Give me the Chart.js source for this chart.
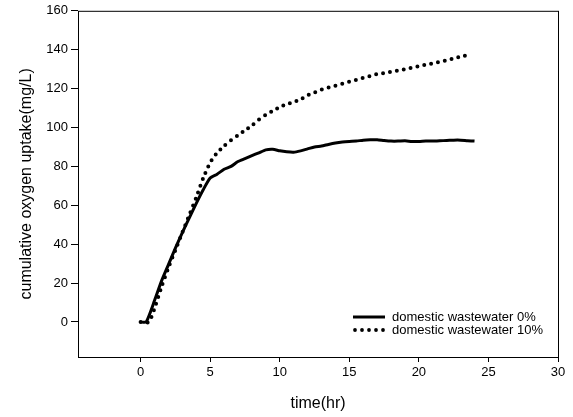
<!DOCTYPE html>
<html lang="en">
<head>
    <meta charset="UTF-8">
    <title>Cumulative oxygen uptake</title>
    <script src="https://cdn.jsdelivr.net/npm/chart.js"></script>
    <style>
        body {
            margin: 0;
            background: #fff;
        }
        #wrap {
            width: 573px;
            height: 417px;
        }
    </style>
</head>
<body>
    <div id="wrap"><canvas id="plot" width="573" height="417"></canvas></div>

    <script>
        // time (hr), sampled every half hour
        const hours0 = [0, 0.4, 1, 1.5, 2, 2.5, 3, 3.5, 4, 4.5, 5, 5.5, 6, 6.5, 7, 7.5, 8, 8.5, 9, 9.5,
            10, 10.5, 11, 11.5, 12, 12.5, 13, 13.5, 14, 14.5, 15, 15.5, 16, 16.5, 17, 17.5, 18, 18.5, 19, 19.5,
            20, 20.5, 21, 21.5, 22, 22.5, 23, 23.5, 24];
        const uptake0 = [0, 0, 11, 21, 29.5, 38, 46, 53.5, 61, 68, 74, 76, 78.5, 80, 82.5, 84, 85.5, 87, 88.5, 88.8,
            88, 87.5, 87.3, 88, 89, 90, 90.5, 91.3, 92, 92.5, 92.8, 93, 93.5, 93.7, 93.7, 93.3, 93, 93, 93.2, 92.8,
            92.8, 93, 93, 93.2, 93.3, 93.5, 93.5, 93.2, 93];

        const hours10 = [0, 0.6, 1, 1.5, 2, 2.5, 3, 3.5, 4, 4.5, 5, 5.5, 6, 6.5, 7, 7.5, 8, 8.5, 9, 9.5,
            10, 10.5, 11, 11.5, 12, 12.5, 13, 13.5, 14, 14.5, 15, 15.5, 16, 16.5, 17, 17.5, 18, 18.5, 19, 19.5,
            20, 20.5, 21, 21.5, 22, 22.5, 23, 23.7];
        const uptake10 = [0, 0, 7, 18, 28, 37, 46, 55, 64, 74, 82, 87, 90.5, 93.5, 96, 98.5, 101, 104, 106.5, 108.5,
            110.5, 112, 113, 114.5, 116.5, 118, 119.5, 120.5, 121.5, 122.5, 123.5, 124.5, 125.5, 126.5, 127.5, 128, 128.7, 129.3, 130, 130.8,
            131.5, 132.3, 133, 133.8, 134.5, 135.5, 136.5, 137.3];

        const xTicks = [0, 5, 10, 15, 20, 25, 30];
        const yTicks = [0, 20, 40, 60, 80, 100, 120, 140, 160];

        const seriesNames = ["domestic wastewater 0%", "domestic wastewater 10%"];

        const font = "'Liberation Sans', Arial, sans-serif";

        // frame round the plot area plus a legend inside it
        const framePlugin = {
            id: "frame",
            afterDraw(chart) {
                const { ctx, chartArea } = chart;
                ctx.save();
                ctx.strokeStyle = "#000";
                ctx.lineWidth = 1;
                ctx.strokeRect(chartArea.left + 0.5, chartArea.top + 0.5,
                    chartArea.right - chartArea.left, chartArea.bottom - chartArea.top);

                // legend
                const lx = chartArea.right - 205;
                const ly = chartArea.bottom - 40;
                ctx.font = "13px " + font;
                ctx.fillStyle = "#000";
                ctx.textBaseline = "middle";
                ctx.beginPath();
                ctx.lineWidth = 3;
                ctx.moveTo(lx, ly);
                ctx.lineTo(lx + 32, ly);
                ctx.stroke();
                ctx.fillText(chart.data.datasets[0].label, lx + 39, ly);
                for (let i = 0; i < 5; i++) {
                    ctx.beginPath();
                    ctx.arc(lx + 2 + i * 7, ly + 13, 1.9, 0, Math.PI * 2);
                    ctx.fill();
                }
                ctx.fillText(chart.data.datasets[1].label, lx + 39, ly + 13);
                ctx.restore();
            }
        };

        const ctx = document.getElementById("plot").getContext("2d");
        new Chart(ctx, {
            type: "scatter",
            data: {
                datasets: [
                    {
                        label: seriesNames[0],
                        data: hours0.map((t, i) => ({ x: t, y: uptake0[i] })),
                        showLine: true,
                        borderColor: "#000",
                        backgroundColor: "#000",
                        borderWidth: 3,
                        pointRadius: 0,
                        tension: 0.2
                    },
                    {
                        label: seriesNames[1],
                        data: hours10.map((t, i) => ({ x: t, y: uptake10[i] })),
                        showLine: true,
                        borderColor: "#000",
                        backgroundColor: "#000",
                        borderWidth: 4,
                        borderDash: [0, 7],
                        borderCapStyle: "round",
                        pointRadius: 0,
                        tension: 0.2
                    }
                ]
            },
            options: {
                responsive: false,
                animation: false,
                layout: {
                    padding: { top: 10, right: 15, left: 0, bottom: 0 }
                },
                plugins: {
                    legend: { display: false },
                    tooltip: { enabled: false }
                },
                scales: {
                    x: {
                        type: "linear",
                        min: -4.5,
                        max: 30,
                        afterBuildTicks: scale => {
                            scale.ticks = xTicks.map(v => ({ value: v }));
                        },
                        afterFit: scale => {
                            scale.height = 60;
                        },
                        border: { display: false },
                        grid: {
                            drawOnChartArea: false,
                            drawTicks: true,
                            tickLength: 5,
                            color: "#000"
                        },
                        ticks: {
                            color: "#000",
                            font: { family: font, size: 13 },
                            padding: 3,
                            maxRotation: 0
                        },
                        title: {
                            display: true,
                            text: "time(hr)",
                            color: "#000",
                            font: { family: font, size: 16 },
                            padding: { top: 12 }
                        }
                    },
                    y: {
                        type: "linear",
                        min: -18,
                        max: 160,
                        afterBuildTicks: scale => {
                            scale.ticks = yTicks.map(v => ({ value: v }));
                        },
                        afterFit: scale => {
                            scale.width = 78;
                        },
                        border: { display: false },
                        grid: {
                            drawOnChartArea: false,
                            drawTicks: true,
                            tickLength: 7,
                            color: "#000"
                        },
                        ticks: {
                            color: "#000",
                            font: { family: font, size: 13 },
                            padding: 3
                        },
                        title: {
                            display: true,
                            text: "cumulative oxygen uptake(mg/L)",
                            color: "#000",
                            font: { family: font, size: 16 },
                            padding: { bottom: 0, top: 17 }
                        }
                    }
                }
            },
            plugins: [framePlugin]
        });
    </script>
</body>
</html>
